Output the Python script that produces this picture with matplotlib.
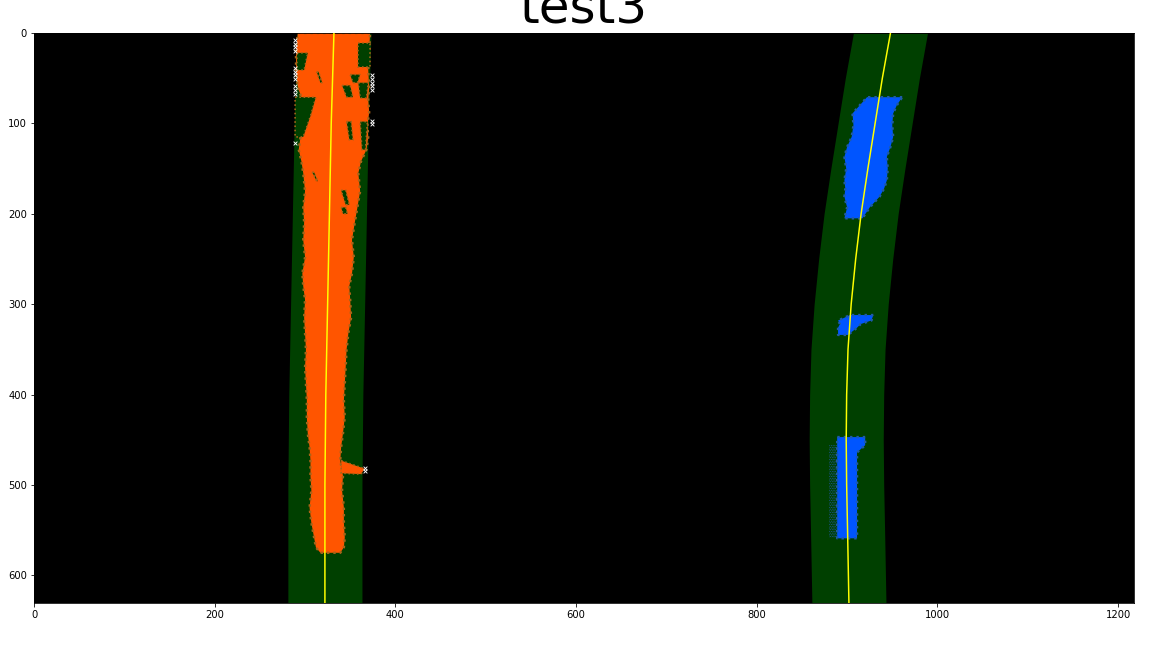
import matplotlib
matplotlib.use('Agg')
from matplotlib import pyplot as plt

img_w = 1217
img_h = 630

# left lane window and fit
left_band_y = [0, 100, 200, 300, 400, 500, 630]
left_band_l = [291, 288, 286, 284, 282, 281, 281]
left_band_r = [373, 370, 368, 366, 364, 363, 363]
left_fit_x = [332, 329, 327, 325, 323, 322, 322]

# right lane window and fit
right_band_y = [0, 50, 100, 150, 200, 250, 300, 350, 400, 450, 500, 550, 630]
right_band_l = [907, 898, 890, 882, 874.5, 868.5, 863.5, 860, 858.5, 858, 858.5, 859.5, 861]
right_band_r = [989, 980, 972, 964, 956.5, 950.5, 945.5, 942, 940.5, 940, 940.5, 941.5, 943]
right_fit_x = [948, 939, 931, 923, 915.5, 909.5, 904.5, 901, 899.5, 899, 899.5, 900.5, 902]

# left lane pixels
left_y = [0, 20, 41, 60, 74, 88, 102, 115, 129, 142, 155, 175, 193, 210, 229, 248, 266, 280, 295,
          315, 332, 350, 370, 388, 406, 425, 443, 458, 473, 490, 506, 525, 542, 558, 569, 575]
left_l = [292, 290, 290, 292, 297, 294, 292, 295, 293, 296, 298, 300, 298, 299, 298, 300, 297, 298, 300,
          299, 300, 301, 300, 301, 302, 302, 303, 305, 306, 306, 307, 305, 307, 310, 312, 317]
left_r = [372, 371, 370, 371, 370, 371, 369, 370, 368, 362, 359, 361, 358, 355, 352, 354, 352, 349, 350,
          351, 348, 346, 345, 344, 343, 344, 342, 340, 339, 342, 341, 343, 343, 344, 343, 339]
spur_x = [340, 366, 362, 340]
spur_y = [473, 482, 488, 487]

# gaps in the left lane pixels
gap_x = [[291, 303, 299, 291], [289, 312, 306, 298, 294, 289], [359, 372, 372, 359],
         [359, 370, 368, 361], [350, 361, 358, 353], [361, 369, 367, 363],
         [346, 351, 353, 349], [341, 350, 353, 346], [313, 315, 319, 317],
         [340, 345, 349, 345], [340, 345, 347, 342], [308, 310, 314, 313]]
gap_y = [[22, 22, 41, 41], [71, 71, 92, 115, 115, 115], [11, 11, 38, 38],
         [55, 55, 72, 72], [46, 46, 55, 55], [98, 98, 129, 129],
         [98, 98, 118, 118], [58, 58, 71, 71], [43, 43, 55, 55],
         [174, 174, 190, 190], [193, 193, 200, 200], [154, 154, 164, 164]]

# right lane pixels
blue_top_y = [71, 80, 89, 102, 115, 126, 137, 150, 163, 172, 181, 193, 205]
blue_top_l = [922, 914, 906, 907, 905, 900, 897, 899, 897, 898, 897, 900, 897]
blue_top_r = [961, 955, 951, 950, 951, 948, 944, 945, 944, 941, 936, 925, 917]
blue_mid_y = [312, 315, 318, 322, 326, 334]
blue_mid_l = [903, 897, 890, 892, 890, 890]
blue_mid_r = [929, 928, 927, 915, 911, 901]
blue_low_y = [447, 456, 464, 559]
blue_low_l = [889, 889, 889, 889]
blue_low_r = [920, 920, 911, 911]
blue_fringe_y = [456, 559]
blue_fringe_l = [880, 880]
blue_fringe_r = [889, 889]

# stray white pixels
white_x = [289, 289, 289, 289, 289, 289, 289, 289, 289, 289, 289,
           374, 374, 374, 374, 374, 374, 374, 289, 366, 366]
white_y = [8, 12, 16, 20, 39, 43, 47, 51, 59, 63, 67,
           47, 51, 55, 59, 63, 97, 101, 122, 481, 485]

green = '#004000'
orange = '#ff5500'
blue = '#0055ff'

fig = plt.figure(figsize=(16, 9), dpi=72)
ax = fig.add_axes([34 / 1152, 1 - 602.5 / 648, 1099.5 / 1152, 569.5 / 648])
ax.set_facecolor('black')

ax.fill_betweenx(left_band_y, left_band_l, left_band_r, color=green, lw=0)
ax.fill_betweenx(right_band_y, right_band_l, right_band_r, color=green, lw=0)

ax.fill_betweenx(left_y, left_l, left_r, facecolor=orange, edgecolor='#a8641a', lw=2.4, ls=':')
ax.fill(spur_x, spur_y, facecolor=orange, edgecolor='#a8641a', lw=1.6, ls=':')
for xs, ys in zip(gap_x, gap_y):
    ax.fill(xs, ys, facecolor=green, edgecolor='#a8641a', lw=1.6, ls=':')

for ys, ls_, rs in [(blue_top_y, blue_top_l, blue_top_r),
                    (blue_mid_y, blue_mid_l, blue_mid_r),
                    (blue_low_y, blue_low_l, blue_low_r)]:
    ax.fill_betweenx(ys, ls_, rs, facecolor=blue, edgecolor='#1f5aa8', lw=2.4, ls=':')
plt.rcParams['hatch.linewidth'] = 0.6
ax.fill_betweenx(blue_fringe_y, blue_fringe_l, blue_fringe_r, facecolor='none',
                 edgecolor='#1f5aa8', hatch='.......', lw=0)

ax.scatter(white_x, white_y, s=14, marker='x', c='white', linewidths=0.9, zorder=3)

ax.plot(left_fit_x, left_band_y, color='yellow', lw=1.5, zorder=4)
ax.plot(right_fit_x, right_band_y, color='yellow', lw=1.5, zorder=4)

ax.set_xlim(0, img_w)
ax.set_ylim(img_h, 0)
ax.set_xticks([0, 200, 400, 600, 800, 1000, 1200])
ax.set_yticks([0, 100, 200, 300, 400, 500, 600])
ax.set_title('test3', fontsize=50, pad=8)

fig.savefig('out.png', dpi=72)
